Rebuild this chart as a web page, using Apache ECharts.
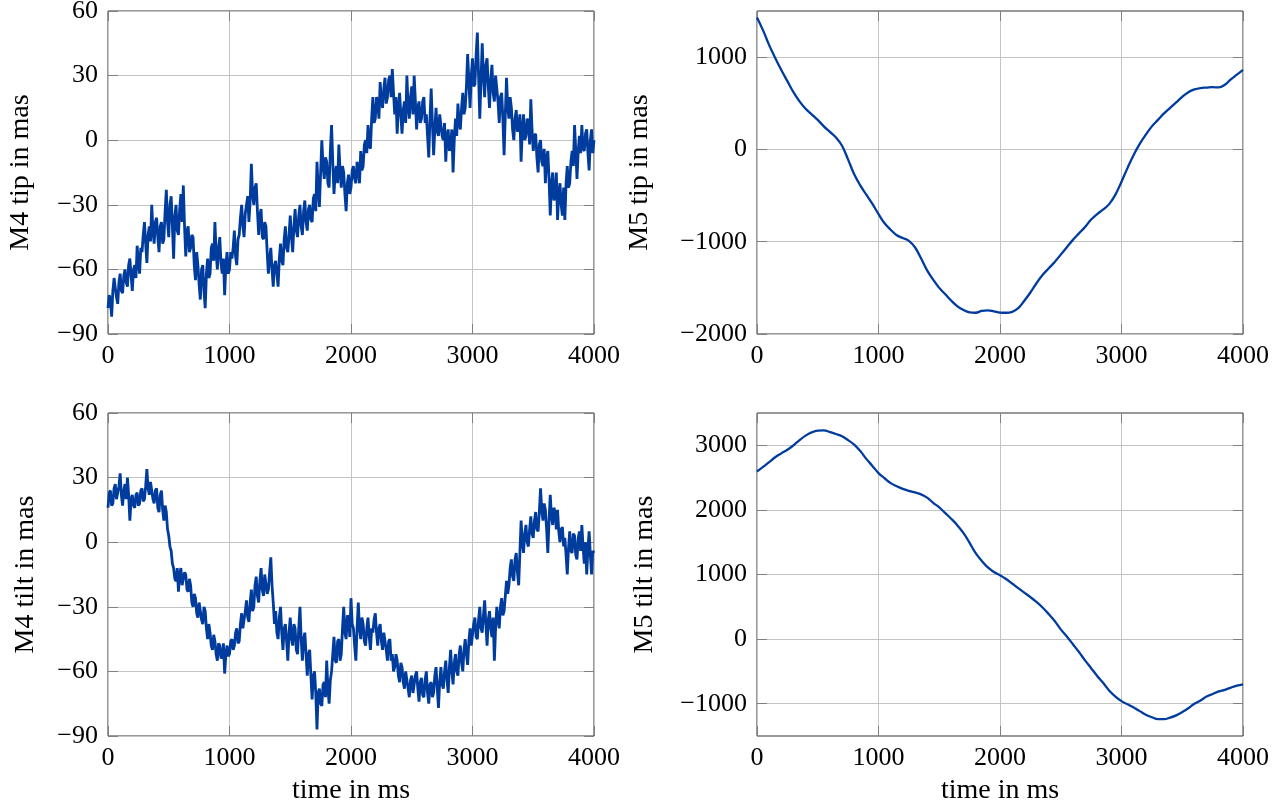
<!DOCTYPE html>
<html>
<head>
<meta charset="utf-8">
<script src="https://cdn.jsdelivr.net/npm/echarts@6/dist/echarts.min.js"></script>
<style>
  html, body { margin: 0; padding: 0; background: #ffffff; }
  #chart { width: 1288px; height: 807px; }
</style>
</head>
<body>
<div id="chart"></div>
<script>
// ---------------- data ----------------
// sampling steps in ms
const STEP_NOISY = 10;
const STEP_SMOOTH = 50;

// M4 tip in mas, every 10 ms from 0 to 4000 (one row = 100 ms)
const m4Tip = [
  -78,-72,-74,-82,-70,-64,-64,-73,-76,-66,
  -62,-70,-71,-63,-60,-66,-68,-58,-55,-63,
  -70,-60,-58,-64,-49,-57,-62,-50,-52,-44,
  -38,-48,-57,-44,-40,-47,-30,-42,-48,-38,
  -36,-45,-52,-40,-38,-48,-46,-33,-23,-38,
  -45,-30,-26,-40,-55,-35,-30,-42,-44,-32,
  -25,-38,-21,-40,-54,-42,-40,-52,-50,-44,
  -45,-58,-65,-52,-58,-67,-74,-60,-58,-70,
  -78,-62,-55,-64,-62,-50,-48,-56,-38,-52,
  -60,-50,-45,-57,-62,-55,-72,-58,-52,-62,
  -60,-52,-55,-50,-42,-54,-58,-46,-44,-36,
  -30,-40,-45,-34,-30,-26,-38,-28,-11,-25,
  -30,-22,-20,-33,-44,-35,-32,-45,-46,-38,
  -40,-52,-62,-55,-50,-60,-68,-58,-56,-62,
  -68,-55,-48,-56,-58,-46,-40,-50,-52,-44,
  -35,-45,-52,-40,-32,-42,-45,-35,-30,-40,
  -44,-33,-28,-38,-42,-32,-30,-37,-38,-27,
  -25,-33,-10,-22,-31,-15,0,-12,-18,-8,
  -10,-20,-22,-5,7,-10,-25,-15,-12,-20,
  -2,-14,-22,-12,-15,-25,-33,-20,-16,-25,
  -22,-14,-12,-18,-20,-10,-13,-20,-5,-14,
  -12,-2,0,-6,7,-2,-4,10,20,8,
  10,20,18,10,27,18,15,24,29,17,
  20,28,30,20,33,22,12,20,3,15,
  22,12,3,14,18,8,30,16,10,20,
  25,12,30,18,5,15,18,8,10,18,
  20,8,12,2,-8,10,24,8,-7,5,
  15,4,2,12,12,2,0,8,-10,2,
  5,-5,-3,5,-15,0,10,2,17,8,
  5,15,22,12,15,25,40,28,15,30,
  38,25,26,40,50,30,10,28,45,30,
  20,35,38,25,15,28,35,22,18,30,
  30,18,8,20,22,10,-7,12,29,15,
  10,20,15,5,0,10,14,4,5,12,
  -10,5,12,0,2,10,8,-2,19,5,
  -5,2,3,-8,-15,-2,0,-10,-12,-4,
  -20,-8,-5,-18,-35,-20,-15,-28,-25,-15,
  -37,-25,-20,-30,-35,-22,-37,-20,-12,-22,
  -20,-10,-5,-12,7,-5,-18,-5,2,-6,
  7,-4,-5,3,5,-6,-14,0,5,-6,
  0
];

// M4 tilt in mas, every 10 ms from 0 to 4000 (one row = 100 ms)
const m4Tilt = [
  16,23,24,17,18,25,27,20,20,26,
  32,22,17,24,27,20,30,22,10,20,
  22,17,16,22,23,17,18,24,25,19,
  20,26,34,25,22,28,28,20,18,24,
  25,16,14,22,24,15,10,17,14,6,
  3,-2,-4,-10,-12,-17,-18,-12,-23,-15,
  -12,-20,-20,-14,-15,-22,-23,-17,-20,-28,
  -30,-24,-26,-33,-35,-28,-28,-36,-38,-30,
  -32,-40,-45,-38,-42,-48,-50,-43,-46,-52,
  -55,-47,-48,-54,-53,-47,-61,-52,-48,-53,
  -52,-46,-45,-50,-48,-42,-40,-47,-46,-38,
  -33,-40,-40,-32,-27,-35,-37,-28,-22,-32,
  -30,-20,-16,-25,-28,-18,-12,-22,-25,-15,
  -15,-24,-22,-14,-7,-20,-28,-38,-32,-42,
  -45,-35,-30,-42,-50,-40,-38,-46,-55,-42,
  -35,-45,-48,-38,-40,-50,-52,-40,-30,-45,
  -55,-45,-42,-52,-62,-52,-50,-62,-73,-62,
  -60,-70,-87,-70,-68,-75,-76,-66,-65,-72,
  -55,-68,-75,-64,-60,-52,-44,-55,-56,-46,
  -45,-55,-52,-40,-30,-42,-45,-34,-35,-44,
  -26,-38,-40,-48,-55,-40,-28,-40,-45,-35,
  -38,-46,-48,-40,-35,-44,-50,-40,-42,-36,
  -33,-42,-48,-40,-38,-46,-50,-42,-42,-50,
  -55,-46,-45,-55,-52,-60,-58,-52,-55,-62,
  -65,-56,-58,-65,-68,-60,-60,-68,-72,-64,
  -62,-70,-70,-62,-60,-68,-74,-65,-63,-71,
  -72,-64,-60,-70,-75,-66,-65,-72,-70,-62,
  -58,-68,-77,-65,-58,-66,-68,-60,-55,-64,
  -70,-58,-50,-60,-66,-56,-52,-60,-62,-52,
  -48,-56,-60,-50,-45,-52,-57,-46,-40,-48,
  -48,-38,-35,-44,-45,-36,-30,-40,-42,-34,
  -27,-38,-48,-36,-32,-40,-44,-35,-55,-40,
  -30,-36,-40,-30,-26,-34,-32,-25,-18,-24,
  -20,-12,-8,-16,-18,-8,-5,-14,-20,-5,
  10,0,-5,4,8,0,-2,6,12,4,
  2,10,14,6,5,14,25,15,10,18,
  15,6,-5,10,22,12,8,16,14,6,
  15,5,0,6,7,-2,2,-6,-15,-3,
  5,-4,-5,4,3,-6,-8,2,5,-4,
  8,-2,-10,0,-15,-3,5,-6,-15,-4,
  -5
];

// M5 tip in mas, every 50 ms from 0 to 4000
const m5Tip = [
  1430,1290,1130,990,860,740,620,520,440,380,
  320,250,190,130,40,-110,-270,-390,-490,-590,
  -700,-800,-870,-930,-960,-990,-1060,-1180,-1310,-1410,
  -1500,-1570,-1640,-1700,-1740,-1765,-1770,-1750,-1745,-1755,
  -1768,-1770,-1760,-1720,-1640,-1550,-1450,-1360,-1290,-1220,
  -1140,-1060,-980,-910,-840,-760,-700,-650,-590,-490,
  -350,-200,-60,60,160,250,320,390,450,510,
  570,620,650,665,670,675,672,700,760,810,
  862
];

// M5 tilt in mas, every 50 ms from 0 to 4000
const m5Tilt = [
  2595,2665,2740,2815,2875,2930,3000,3080,3150,3200,
  3228,3232,3205,3175,3140,3080,3010,2910,2790,2680,
  2570,2490,2415,2365,2325,2295,2270,2240,2190,2110,
  2040,1950,1860,1760,1640,1490,1330,1210,1110,1040,
  990,930,860,790,720,650,575,490,390,280,
  150,40,-80,-200,-330,-450,-570,-680,-800,-890,
  -960,-1010,-1060,-1115,-1170,-1210,-1240,-1240,-1215,-1180,
  -1130,-1070,-1000,-950,-890,-850,-810,-785,-750,-720,
  -700
];

// axis ranges and tick labels
const timeTicks = [0, 1000, 2000, 3000, 4000];
const m4Ticks = [-90, -60, -30, 0, 30, 60];
const m5TipTicks = [-2000, -1000, 0, 1000];
const m5TiltTicks = [-1000, 0, 1000, 2000, 3000];
const panels = [
  { name: 'M4 tip in mas',  values: m4Tip,  step: STEP_NOISY,  min: -90,   max: 60,   ticks: m4Ticks,     xName: '' },
  { name: 'M5 tip in mas',  values: m5Tip,  step: STEP_SMOOTH, min: -2000, max: 1500, ticks: m5TipTicks,  xName: '' },
  { name: 'M4 tilt in mas', values: m4Tilt, step: STEP_NOISY,  min: -90,   max: 60,   ticks: m4Ticks,     xName: 'time in ms' },
  { name: 'M5 tilt in mas', values: m5Tilt, step: STEP_SMOOTH, min: -1500, max: 3500, ticks: m5TiltTicks, xName: 'time in ms' }
];

// ---------------- layout / style ----------------
const FONT = 'Liberation Serif';
const LINE_COLOR = '#003c9e';
const grids = [
  { left: 108, top: 11,  width: 486, height: 323 },
  { left: 757, top: 11,  width: 486, height: 323 },
  { left: 108, top: 413, width: 486, height: 323 },
  { left: 757, top: 413, width: 486, height: 323 }
];
const yNameGaps = [73, 103, 68, 98];

const fmt = v => String(v).replace('-', '\u2212');
const tickStyle = { color: '#808080', width: 1 };

const gridOpt = grids.map(g => Object.assign({
  show: true, borderColor: '#333', borderWidth: 1, backgroundColor: 'transparent',
  containLabel: false, outerBoundsMode: 'none'
}, g));

const xAxes = [];
const yAxes = [];
const series = [];
panels.forEach((p, i) => {
  const yInterval = p.min === -90 ? 30 : 1000;
  xAxes.push({
    type: 'value', gridIndex: i, min: 0, max: 4000, interval: 1000,
    position: 'bottom',
    name: p.xName, nameLocation: 'middle', nameGap: 41,
    nameTextStyle: { fontFamily: FONT, fontSize: 28, color: '#000' },
    axisLine: { show: false, onZero: false },
    axisTick: { show: true, inside: true, length: 10, customValues: timeTicks, lineStyle: tickStyle },
    axisLabel: { show: true, margin: 9, customValues: timeTicks, fontFamily: FONT, fontSize: 26, color: '#000', formatter: fmt },
    splitLine: { show: true, lineStyle: { color: '#c4c4c4', width: 1 } }
  });
  yAxes.push({
    type: 'value', gridIndex: i, min: p.min, max: p.max, interval: yInterval,
    position: 'left',
    name: p.name, nameLocation: 'middle', nameGap: yNameGaps[i], nameRotate: 90,
    nameTextStyle: { fontFamily: FONT, fontSize: 28, color: '#000' },
    axisLine: { show: false, onZero: false },
    axisTick: { show: true, inside: true, length: 10, customValues: p.ticks, lineStyle: tickStyle },
    axisLabel: { show: true, margin: 10, customValues: p.ticks, fontFamily: FONT, fontSize: 26, color: '#000', formatter: fmt },
    splitLine: { show: true, lineStyle: { color: '#c4c4c4', width: 1 } }
  });
  const dataPairs = p.values.map((v, k) => [k * p.step, v]);
  series.push({
    type: 'line', xAxisIndex: xAxes.length - 1, yAxisIndex: yAxes.length - 1,
    data: dataPairs, showSymbol: false, symbol: 'none',
    smooth: p.step === STEP_SMOOTH ? 0.4 : false,
    animation: false,
    lineStyle: { color: LINE_COLOR, width: p.step === STEP_SMOOTH ? 2.3 : 2.8, join: 'bevel' },
    clip: true
  });
  // mirror axes for top / right tick marks
  xAxes.push({
    type: 'value', gridIndex: i, min: 0, max: 4000, interval: 1000, position: 'top',
    axisLine: { show: false, onZero: false }, axisLabel: { show: false }, splitLine: { show: false },
    axisTick: { show: true, inside: true, length: 10, customValues: timeTicks, lineStyle: tickStyle }
  });
  yAxes.push({
    type: 'value', gridIndex: i, min: p.min, max: p.max, interval: yInterval, position: 'right',
    axisLine: { show: false, onZero: false }, axisLabel: { show: false }, splitLine: { show: false },
    axisTick: { show: true, inside: true, length: 10, customValues: p.ticks, lineStyle: tickStyle }
  });
});

const chart = echarts.init(document.getElementById('chart'), null, { renderer: 'canvas' });
chart.setOption({
  animation: false,
  backgroundColor: '#ffffff',
  grid: gridOpt,
  xAxis: xAxes,
  yAxis: yAxes,
  series: series
});
</script>
</body>
</html>
